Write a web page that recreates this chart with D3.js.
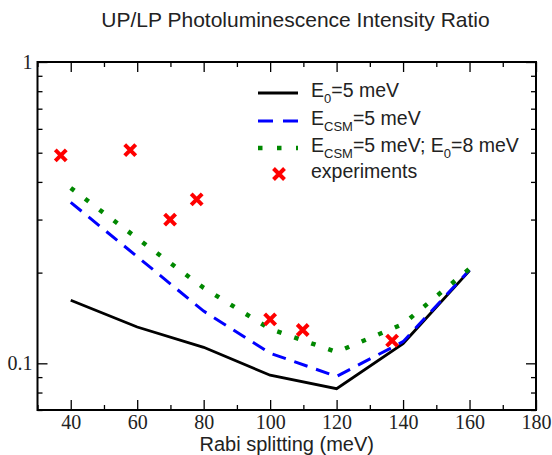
<!DOCTYPE html>
<html lang="en">
<head>
    <meta charset="UTF-8">
    <title>UP/LP Photoluminescence Intensity Ratio</title>
    <script src="https://d3js.org/d3.v7.min.js"></script>
    <style>
        body { margin: 0; padding: 0; background: #fff; }
        svg { display: block; }
    </style>
</head>
<body>
<svg width="552" height="455"></svg>
<script>
    // data
    const rabi = [40, 60, 80, 100, 120, 140, 160];
    const e0 = [0.162, 0.132, 0.113, 0.0913, 0.0824, 0.1163, 0.203];
    const ecsm = [0.342, 0.226, 0.149, 0.108, 0.0905, 0.118, 0.204];
    const ecsmE0 = [0.382, 0.260, 0.178, 0.130, 0.109, 0.135, 0.206];
    const expX = [37.0, 57.9, 69.9, 77.9, 100.0, 109.8, 136.7];
    const expY = [0.490, 0.510, 0.300, 0.350, 0.140, 0.129, 0.119];
    const xMajor = [40, 60, 80, 100, 120, 140, 160, 180];
    const xMinor = [30, 50, 70, 90, 110, 130, 150, 170];
    const yMajor = [0.1, 1];
    const yMinor = [0.07, 0.08, 0.09, 0.2, 0.3, 0.4, 0.5, 0.6, 0.7, 0.8, 0.9];

    const svg = d3.select("svg");
    const mLeft = 37.5, mRight = 536, mTop = 62, mBottom = 410;
    const sans = "Liberation Sans, Arial, Helvetica, sans-serif";
    const serif = "Liberation Serif, Times New Roman, serif";

    const x = d3.scaleLinear().domain([30, 180]).range([mLeft, mRight]);
    const y = d3.scaleLog().domain([0.07, 1]).range([mBottom, mTop]);

    // title
    svg.append("text")
        .attr("x", 295.5).attr("y", 27)
        .attr("text-anchor", "middle")
        .attr("font-family", sans).attr("font-size", 21).attr("fill", "#222")
        .text("UP/LP Photoluminescence Intensity Ratio");

    const styleAxis = g => {
        g.attr("font-family", serif).attr("font-size", 20);
        g.select(".domain").remove();
        g.selectAll(".tick line").attr("stroke", "#000").attr("stroke-width", 1.3);
        g.selectAll(".tick text").attr("fill", "#222");
    };

    // axes (ticks point inward)
    const fmtY = d => d === 1 ? "1" : "0.1";
    svg.append("g").attr("transform", `translate(0,${mBottom})`)
        .call(d3.axisBottom(x).tickValues(xMajor).tickSizeInner(-10).tickSizeOuter(0).tickFormat(d3.format("d")))
        .call(styleAxis)
        .call(g => g.selectAll(".tick text").attr("y", 18.5).attr("dy", null));
    svg.append("g").attr("transform", `translate(0,${mBottom})`)
        .call(d3.axisBottom(x).tickValues(xMinor).tickSizeInner(-5).tickSizeOuter(0).tickFormat(""))
        .call(styleAxis);
    svg.append("g").attr("transform", `translate(0,${mTop})`)
        .call(d3.axisTop(x).tickValues(xMajor).tickSizeInner(-10).tickSizeOuter(0).tickFormat(""))
        .call(styleAxis);
    svg.append("g").attr("transform", `translate(0,${mTop})`)
        .call(d3.axisTop(x).tickValues(xMinor).tickSizeInner(-5).tickSizeOuter(0).tickFormat(""))
        .call(styleAxis);

    svg.append("g").attr("transform", `translate(${mLeft},0)`)
        .call(d3.axisLeft(y).tickValues(yMajor).tickSizeInner(-10).tickSizeOuter(0).tickPadding(5).tickFormat(fmtY))
        .call(styleAxis);
    svg.append("g").attr("transform", `translate(${mLeft},0)`)
        .call(d3.axisLeft(y).tickValues(yMinor).tickSizeInner(-5).tickSizeOuter(0).tickFormat(""))
        .call(styleAxis);
    svg.append("g").attr("transform", `translate(${mRight},0)`)
        .call(d3.axisRight(y).tickValues(yMajor).tickSizeInner(-10).tickSizeOuter(0).tickFormat(""))
        .call(styleAxis);
    svg.append("g").attr("transform", `translate(${mRight},0)`)
        .call(d3.axisRight(y).tickValues(yMinor).tickSizeInner(-5).tickSizeOuter(0).tickFormat(""))
        .call(styleAxis);

    // frame
    svg.append("rect")
        .attr("x", mLeft).attr("y", mTop)
        .attr("width", mRight - mLeft).attr("height", mBottom - mTop)
        .attr("fill", "none").attr("stroke", "#000").attr("stroke-width", 2);

    svg.append("text")
        .attr("x", (mLeft + mRight) / 2).attr("y", 450.5)
        .attr("text-anchor", "middle")
        .attr("font-family", sans).attr("font-size", 20).attr("fill", "#222")
        .text("Rabi splitting (meV)");

    const line = vals => d3.line().x((d, i) => x(rabi[i])).y(d => y(d))(vals);

    svg.append("path").attr("d", line(e0))
        .attr("fill", "none").attr("stroke", "#000").attr("stroke-width", 2.8);
    svg.append("path").attr("d", line(ecsm))
        .attr("fill", "none").attr("stroke", "#0000ff").attr("stroke-width", 3)
        .attr("stroke-dasharray", "14,9");
    svg.append("path").attr("d", line(ecsmE0))
        .attr("fill", "none").attr("stroke", "#008800").attr("stroke-width", 4.5)
        .attr("stroke-dasharray", "4.5,13.5");

    const cross = (cx, cy, s) => `M${cx - s},${cy - s}L${cx + s},${cy + s}M${cx - s},${cy + s}L${cx + s},${cy - s}`;
    svg.append("g").selectAll("path")
        .data(expX)
        .join("path")
        .attr("d", (d, i) => cross(x(d), y(expY[i]), 5.5))
        .attr("stroke", "#ff0000").attr("stroke-width", 4);

    // legend
    const lg = svg.append("g");
    const rows = [
        { y: 93, stroke: "#000", w: 2.8, dash: null },
        { y: 121, stroke: "#0000ff", w: 3, dash: "15,10" },
        { y: 148, stroke: "#008800", w: 4.5, dash: "4.5,14.5" }
    ];
    rows.forEach(r => {
        lg.append("line").attr("x1", 258).attr("x2", 298).attr("y1", r.y).attr("y2", r.y)
            .attr("stroke", r.stroke).attr("stroke-width", r.w)
            .attr("stroke-dasharray", r.dash);
    });
    lg.append("path").attr("d", cross(279, 174, 5.5)).attr("stroke", "#ff0000").attr("stroke-width", 4);

    const addLabel = (yy, parts) => {
        const t = lg.append("text").attr("x", 311).attr("y", yy + 4)
            .attr("font-family", sans).attr("font-size", 19.5).attr("fill", "#222");
        parts.forEach(p => {
            const s = t.append("tspan").text(p[0]);
            if (p[1] === "sub") s.attr("dy", 6).attr("font-size", 13);
            if (p[1] === "up") s.attr("dy", -6);
        });
    };
    addLabel(93, [["E"], ["0", "sub"], ["=5 meV", "up"]]);
    addLabel(121, [["E"], ["CSM", "sub"], ["=5 meV", "up"]]);
    addLabel(148, [["E"], ["CSM", "sub"], ["=5 meV; E", "up"], ["0", "sub"], ["=8 meV", "up"]]);
    addLabel(174, [["experiments"]]);
</script>
</body>
</html>
